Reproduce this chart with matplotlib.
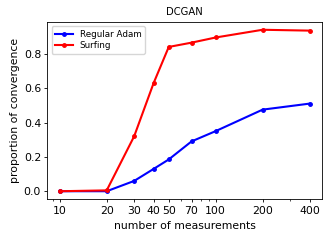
import matplotlib
matplotlib.use("Agg")
import matplotlib.pyplot as plt
from matplotlib.ticker import FixedLocator, FixedFormatter, NullFormatter

measurements = [10, 20, 30, 40, 50, 70, 100, 200, 400]
regular_adam = [0.0, 0.0, 0.06, 0.13, 0.185, 0.29, 0.35, 0.475, 0.51]
surfing = [0.0, 0.005, 0.32, 0.63, 0.84, 0.865, 0.895, 0.94, 0.935]
tick_labels = ["10", "20", "30", "40", "50", "70", "100", "200", "400"]

fig = plt.figure(figsize=(3.32, 2.41), dpi=100)
ax = fig.add_axes([0.1425, 0.173, 0.8274, 0.737])
ax.plot(measurements, regular_adam, color="blue", marker="o", markersize=2.5, linewidth=1.5, label="Regular Adam")
ax.plot(measurements, surfing, color="red", marker="o", markersize=2.5, linewidth=1.5, label="Surfing")
ax.set_xscale("log")
ax.xaxis.set_major_locator(FixedLocator(measurements))
ax.xaxis.set_major_formatter(FixedFormatter(tick_labels))
ax.xaxis.set_minor_formatter(NullFormatter())
ax.set_yticks([0.0, 0.2, 0.4, 0.6, 0.8])
ax.tick_params(labelsize=7.8, length=2.5, width=0.6, pad=2)
ax.tick_params(which="minor", length=1.5, width=0.5)
ax.set_xlabel("number of measurements", fontsize=7.8, labelpad=4)
ax.set_ylabel("proportion of convergence", fontsize=7.8, labelpad=3)
ax.set_title("DCGAN", fontsize=7.2, pad=5)
ax.legend(loc="upper left", fontsize=6.3, handlelength=2, borderpad=0.4, labelspacing=0.3)
for s in ax.spines.values():
    s.set_linewidth(0.6)
fig.savefig("out.png", dpi=100)
